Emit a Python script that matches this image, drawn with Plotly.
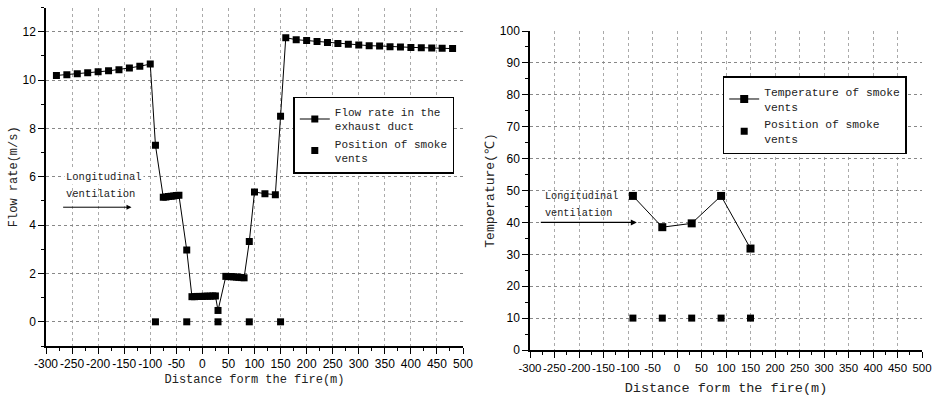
import plotly.graph_objects as go

# ---- data ----
flow_x = [-280, -260, -240, -220, -200, -180, -160, -140, -120, -100,
          -90,
          -75, -70, -65, -60, -55, -50, -45,
          -30,
          -20, -15, -10, -5, 0, 5, 10, 15, 20, 25,
          30,
          45, 50, 55, 60, 65, 70, 75, 80,
          90, 100, 120, 140, 150,
          160, 180, 200, 220, 240, 260, 280, 300, 320, 340, 360, 380, 400,
          420, 440, 460, 480]
flow_y = [10.19, 10.22, 10.26, 10.30, 10.34, 10.38, 10.43, 10.50, 10.57, 10.66,
          7.30,
          5.15, 5.16, 5.18, 5.19, 5.20, 5.22, 5.24,
          2.97,
          1.04, 1.04, 1.05, 1.05, 1.05, 1.06, 1.06, 1.06, 1.07, 1.07,
          0.47,
          1.88, 1.87, 1.87, 1.86, 1.85, 1.84, 1.83, 1.82,
          3.32, 5.37, 5.30, 5.26, 8.50,
          11.75, 11.67, 11.63, 11.59, 11.55, 11.51, 11.48, 11.45, 11.42, 11.41,
          11.38, 11.37, 11.35, 11.34, 11.33, 11.31, 11.30]

vent_x = [-90, -30, 30, 90, 150]
vent_flow_y = [0, 0, 0, 0, 0]
temp_y = [48.3, 38.5, 39.7, 48.3, 31.8]
vent_temp_y = [10, 10, 10, 10, 10]

x_tick_vals = [-300, -250, -200, -150, -100, -50, 0, 50, 100, 150, 200, 250,
               300, 350, 400, 450, 500]
x_tick_text = ["-300", "-250", "-200", "-150", "-100", "-50", "0", "50", "100",
               "150", "200", "250", "300", "350", "400", "450", "500"]

x_title = "Distance form the fire(m)"
left_y_title = "Flow rate(m/s)"
right_y_title = "Temperature(℃)"

MONO = "Liberation Mono"
SANS = "Liberation Sans"

W, H = 933, 398

fig = go.Figure()

fig.add_trace(go.Scatter(
    x=flow_x, y=flow_y, mode="lines+markers",
    name="Flow rate in the<br>exhaust duct",
    line=dict(color="black", width=1),
    marker=dict(symbol="square", size=7, color="black"),
    xaxis="x", yaxis="y", legend="legend"))
fig.add_trace(go.Scatter(
    x=vent_x, y=vent_flow_y, mode="markers",
    name="Position of smoke<br>vents",
    marker=dict(symbol="square", size=7, color="black"),
    xaxis="x", yaxis="y", legend="legend"))

fig.add_trace(go.Scatter(
    x=vent_x, y=temp_y, mode="lines+markers",
    name="Temperature of smoke<br>vents",
    line=dict(color="black", width=1),
    marker=dict(symbol="square", size=8, color="black"),
    xaxis="x2", yaxis="y2", legend="legend2"))
fig.add_trace(go.Scatter(
    x=vent_x, y=vent_temp_y, mode="markers",
    name="Position of smoke<br>vents",
    marker=dict(symbol="square", size=7, color="black"),
    xaxis="x2", yaxis="y2", legend="legend2"))


def xax(domain, anchor, tsize, title_size, standoff):
    return dict(
        domain=domain, anchor=anchor, range=[-300, 500],
        tickmode="array", tickvals=x_tick_vals, ticktext=x_tick_text,
        tickangle=0, automargin=False,
        ticks="outside", ticklen=6, tickwidth=1, tickcolor="black",
        minor=dict(dtick=25, tick0=0, ticks="outside", ticklen=3,
                   tickwidth=1, tickcolor="black", showgrid=False),
        showline=True, linecolor="black", linewidth=1.5,
        showgrid=True, gridcolor="#aaaaaa", griddash="dot", gridwidth=1,
        zeroline=False,
        tickfont=dict(family=SANS, size=tsize, color="black"),
        title=dict(text=x_title, font=dict(family=MONO, size=title_size,
                                           color="#222"), standoff=standoff),
    )


def yax(domain, anchor, rng, dt, mdt, title, title_size, standoff):
    return dict(
        domain=domain, anchor=anchor, range=rng, automargin=False,
        tickmode="linear", tick0=0, dtick=dt,
        ticks="outside", ticklen=6, tickwidth=1, tickcolor="black",
        minor=dict(dtick=mdt, tick0=0, ticks="outside", ticklen=3,
                   tickwidth=1, tickcolor="black", showgrid=False),
        showline=True, linecolor="black", linewidth=1.5,
        showgrid=True, gridcolor="#888888", griddash="dot", gridwidth=1,
        zeroline=False,
        tickfont=dict(family=SANS, size=12, color="black"),
        title=dict(text=title, font=dict(family=MONO, size=title_size,
                                         color="#222"), standoff=standoff),
    )


fig.update_layout(
    width=W, height=H,
    margin=dict(l=0, r=0, t=0, b=0, autoexpand=False),
    paper_bgcolor="white", plot_bgcolor="white",
    showlegend=True,
    xaxis=xax([46 / W, 463 / W], "y", 12, 12, 4),
    yaxis=yax([1 - 346 / H, 1 - 7.5 / H], "x", [-1, 13], 2, 1,
              left_y_title, 12, 2),
    xaxis2=xax([530 / W, 922 / W], "y2", 11.5, 13.5, 10),
    yaxis2=yax([1 - 350 / H, 1 - 31 / H], "x2", [0, 100], 10, 5,
               right_y_title, 13, 2),
    legend=dict(x=293.3 / W, y=1 - 96.7 / H, xanchor="left", yanchor="top",
                bordercolor="black", borderwidth=1.5, bgcolor="white",
                font=dict(family=MONO, size=11, color="#222"),
                tracegroupgap=0),
    legend2=dict(x=722.7 / W, y=1 - 76.3 / H, xanchor="left", yanchor="top",
                 bordercolor="black", borderwidth=1.5, bgcolor="white",
                 font=dict(family=MONO, size=11.3, color="#222"),
                 tracegroupgap=0),
)

# arrows and labels for longitudinal ventilation
fig.add_annotation(x=-136, y=4.74, ax=-270, ay=4.74, xref="x", yref="y",
                   axref="x", ayref="y", text="", showarrow=True,
                   arrowhead=2, arrowsize=1, arrowwidth=1, arrowcolor="black")
fig.add_annotation(x=-266, y=6.0, xref="x", yref="y", text="Longitudinal",
                   showarrow=False, xanchor="left", yanchor="middle",
                   bgcolor="white",
                   font=dict(family=MONO, size=10.5, color="#222"))
fig.add_annotation(x=-266, y=5.29, xref="x", yref="y", text="ventilation",
                   showarrow=False, xanchor="left", yanchor="middle",
                   font=dict(family=MONO, size=10.5, color="#222"))

fig.add_annotation(x=-82, y=40, ax=-281, ay=40, xref="x2", yref="y2",
                   axref="x2", ayref="y2", text="", showarrow=True,
                   arrowhead=2, arrowsize=1, arrowwidth=1.2, arrowcolor="black")
fig.add_annotation(x=-273, y=48.0, xref="x2", yref="y2", text="Longitudinal",
                   showarrow=False, xanchor="left", yanchor="middle",
                   font=dict(family=MONO, size=10.2, color="#222"))
fig.add_annotation(x=-273, y=42.9, xref="x2", yref="y2", text="ventilation",
                   showarrow=False, xanchor="left", yanchor="middle",
                   font=dict(family=MONO, size=10.2, color="#222"))

# remove the browser's default 8px page margin so the figure fills the view
fig.write_html(
    "out.html",
    config={"displayModeBar": False},
    post_script="document.body.style.margin='0';"
                "document.documentElement.style.overflow='hidden';")
